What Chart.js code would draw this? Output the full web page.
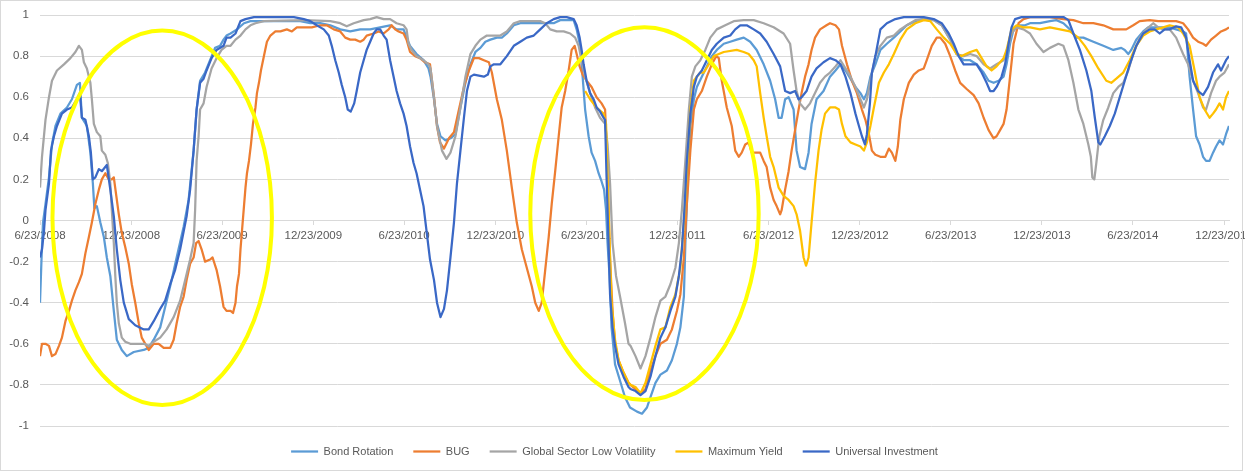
<!DOCTYPE html>
<html>
<head>
<meta charset="utf-8">
<script src="https://cdn.jsdelivr.net/npm/chart.js@4.4.1/dist/chart.umd.min.js"></script>
<style>
  html, body { margin: 0; padding: 0; background: #fff; }
  #wrap { width: 1245px; height: 472px; position: relative; }
</style>
</head>
<body>
<div id="wrap"><canvas id="corrChart"></canvas></div>
<script>
// x values are days counted from 6/23/2008
const tickLabels = ['6/23/2008', '12/23/2008', '6/23/2009', '12/23/2009', '6/23/2010', '12/23/2010',
  '6/23/2011', '12/23/2011', '6/23/2012', '12/23/2012', '6/23/2013', '12/23/2013', '6/23/2014', '12/23/2014'];

const bondDays = [0, 3, 6, 11, 18, 24, 31, 41, 54, 64, 74, 80, 84, 94, 101, 106, 109, 114, 121, 128, 134, 141, 148, 154, 164, 174, 188, 208, 218, 228, 241, 254, 264, 274, 288, 298, 308, 314, 321, 331, 341, 351, 361, 368, 374,
  382, 395, 409, 422, 442, 462, 482, 502, 522, 542, 562, 582, 602, 622, 642, 662, 682, 702, 715, 729, 735, 742, 755, 769, 779,
  783, 790, 796, 803, 813, 823, 833, 843, 853, 863, 873, 883, 893, 903, 916, 926, 936, 950, 963, 990, 1016, 1030, 1043, 1070, 1076, 1083, 1088, 1093, 1100, 1106, 1113, 1120, 1126, 1131, 1135, 1138, 1142, 1146, 1153, 1163, 1173, 1183,
  1197, 1207, 1217, 1224, 1234, 1244, 1257, 1267, 1277, 1284, 1291, 1294, 1299, 1304, 1311, 1317, 1327, 1337, 1347, 1357, 1371, 1384, 1397, 1411, 1424, 1437, 1451, 1464, 1474, 1481, 1487, 1494, 1501, 1511, 1517, 1524, 1534, 1541, 1547, 1557, 1571, 1584,
  1595, 1605, 1615, 1625, 1635, 1645, 1652, 1658, 1665, 1675, 1685, 1698, 1712, 1725, 1738, 1755, 1772, 1792, 1808, 1825, 1838, 1852, 1865, 1878, 1892, 1902, 1912, 1922, 1932, 1938, 1945, 1952, 1962, 1975, 1985,
  2005, 2025, 2038, 2052, 2065, 2078, 2092, 2112, 2132, 2152, 2168, 2175, 2182, 2188, 2198, 2212, 2222, 2248, 2265, 2278, 2292, 2298, 2305, 2312, 2318, 2325, 2332, 2338, 2345, 2352, 2358, 2365, 2372, 2378, 2384];
const bondVals = [-0.40, -0.19, -0.01, 0.08, 0.21, 0.37, 0.46, 0.52, 0.55, 0.59, 0.66, 0.67, 0.50, 0.46, 0.33, 0.18, 0.06, 0.07, -0.01, -0.08, -0.18, -0.27, -0.44, -0.58, -0.63, -0.66, -0.64, -0.63, -0.62, -0.58, -0.52, -0.39, -0.29, -0.18, -0.03, 0.10, 0.34, 0.54, 0.68, 0.72, 0.78, 0.84, 0.85, 0.88, 0.90,
  0.91, 0.93, 0.96, 0.97, 0.97, 0.97, 0.97, 0.97, 0.97, 0.96, 0.96, 0.95, 0.93, 0.92, 0.93, 0.93, 0.94, 0.95, 0.93, 0.93, 0.89, 0.85, 0.81, 0.78, 0.74,
  0.70, 0.59, 0.47, 0.41, 0.39, 0.40, 0.42, 0.55, 0.67, 0.76, 0.82, 0.84, 0.87, 0.88, 0.89, 0.89, 0.91, 0.95, 0.96, 0.96, 0.96, 0.96, 0.975, 0.975, 0.93, 0.85, 0.70, 0.54, 0.41, 0.33, 0.29, 0.23, 0.19, 0.15, 0.05, -0.11, -0.27, -0.52, -0.70, -0.78, -0.86, -0.91,
  -0.93, -0.94, -0.91, -0.86, -0.79, -0.75, -0.73, -0.68, -0.60, -0.52, -0.37, -0.11, 0.21, 0.46, 0.59, 0.65, 0.70, 0.75, 0.80, 0.83, 0.86, 0.87, 0.88, 0.89, 0.87, 0.83, 0.76, 0.68, 0.59, 0.50, 0.50, 0.59, 0.60, 0.54, 0.34, 0.26, 0.25, 0.33, 0.47, 0.59, 0.63, 0.70,
  0.73, 0.76, 0.73, 0.69, 0.65, 0.62, 0.59, 0.62, 0.70, 0.76, 0.83, 0.86, 0.89, 0.92, 0.95, 0.97, 0.98, 0.975, 0.95, 0.88, 0.81, 0.78, 0.78, 0.76, 0.72, 0.68, 0.67, 0.68, 0.70, 0.76, 0.86, 0.93, 0.95, 0.95, 0.96,
  0.96, 0.97, 0.975, 0.96, 0.93, 0.89, 0.89, 0.87, 0.85, 0.83, 0.84, 0.83, 0.81, 0.83, 0.88, 0.92, 0.94, 0.94, 0.94, 0.93, 0.92, 0.91, 0.70, 0.54, 0.41, 0.37, 0.31, 0.29, 0.29, 0.33, 0.36, 0.39, 0.37, 0.42, 0.46];

const bugDays = [0, 4, 11, 18, 24, 31, 38, 44, 51, 58, 64, 71, 78, 84, 91, 98, 104, 111, 118, 124, 131, 138, 144, 148, 153, 158, 164, 171, 178, 184, 191, 198, 204, 211, 218, 228, 238, 248, 261, 268, 274, 281, 288, 294, 301, 308, 313, 318, 324, 331, 341, 346, 354, 361, 368, 374,
  382, 387, 392, 395, 399, 402, 405, 409, 412, 415, 419, 423, 427, 432, 435, 439, 443, 449, 455, 462, 472, 482, 495, 505, 515, 545, 562, 575, 589, 602, 612, 622, 632, 642, 649, 655, 669, 679, 689, 699, 705, 712, 719, 729, 735, 742, 752, 762, 772, 782,
  790, 796, 802, 810, 820, 830, 840, 850, 860, 870, 880, 890, 900, 906, 916, 926, 936, 946, 956, 966, 976, 986, 993, 1000, 1006, 1013, 1020, 1026, 1033, 1040, 1046, 1053, 1060, 1066, 1072, 1076, 1082, 1088, 1096, 1106, 1116, 1126, 1133, 1136, 1140, 1143, 1148, 1153, 1160, 1170, 1180,
  1184, 1194, 1204, 1214, 1224, 1234, 1244, 1257, 1267, 1277, 1284, 1291, 1297, 1304, 1311, 1317, 1327, 1337, 1347, 1356, 1361, 1367, 1377, 1387, 1394, 1401, 1407, 1414, 1421, 1427, 1444, 1451, 1457, 1464, 1471, 1477, 1484, 1487, 1494, 1501, 1507, 1514, 1521, 1527, 1534, 1541, 1547, 1554, 1564, 1577, 1584,
  1595, 1602, 1608, 1618, 1628, 1638, 1648, 1655, 1662, 1668, 1675, 1685, 1695, 1702, 1708, 1715, 1720, 1725, 1732, 1742, 1752, 1762, 1772, 1778, 1788, 1798, 1805, 1815, 1825, 1835, 1845, 1858, 1872, 1882, 1892, 1902, 1912, 1918, 1925, 1932, 1938, 1945, 1952, 1962, 1972, 1985,
  2025, 2052, 2072, 2092, 2112, 2132, 2152, 2165, 2178, 2192, 2205, 2225, 2242, 2278, 2292, 2302, 2312, 2322, 2332, 2338, 2348, 2358, 2368, 2378, 2384];
const bugVals = [-0.66, -0.60, -0.60, -0.61, -0.66, -0.65, -0.61, -0.57, -0.49, -0.44, -0.39, -0.34, -0.30, -0.26, -0.16, -0.08, -0.01, 0.08, 0.15, 0.20, 0.23, 0.20, 0.20, 0.21, 0.12, 0.03, -0.06, -0.13, -0.21, -0.31, -0.40, -0.50, -0.57, -0.60, -0.63, -0.60, -0.60, -0.62, -0.62, -0.58, -0.50, -0.42, -0.37, -0.29, -0.21, -0.18, -0.11, -0.10, -0.14, -0.20, -0.19, -0.18, -0.24, -0.32, -0.42, -0.44,
  -0.44, -0.45, -0.40, -0.32, -0.26, -0.14, -0.05, 0.07, 0.16, 0.23, 0.29, 0.37, 0.47, 0.55, 0.62, 0.67, 0.73, 0.80, 0.87, 0.90, 0.92, 0.92, 0.93, 0.92, 0.94, 0.94, 0.95, 0.95, 0.93, 0.92, 0.89, 0.88, 0.88, 0.87, 0.88, 0.90, 0.91, 0.92, 0.91, 0.93, 0.95, 0.93, 0.92, 0.91, 0.88, 0.82, 0.80, 0.79, 0.77, 0.76,
  0.60, 0.46, 0.38, 0.35, 0.40, 0.43, 0.54, 0.65, 0.73, 0.79, 0.79, 0.78, 0.77, 0.72, 0.59, 0.49, 0.34, 0.16, -0.01, -0.14, -0.23, -0.32, -0.40, -0.44, -0.40, -0.24, -0.08, 0.08, 0.24, 0.41, 0.55, 0.63, 0.73, 0.83, 0.85, 0.81, 0.75, 0.71, 0.68, 0.65, 0.60, 0.57, 0.54, 0.37, 0.05, -0.19, -0.44, -0.60, -0.68, -0.74, -0.79,
  -0.80, -0.82, -0.84, -0.82, -0.73, -0.66, -0.60, -0.58, -0.53, -0.44, -0.36, -0.18, 0.08, 0.34, 0.54, 0.59, 0.63, 0.70, 0.76, 0.80, 0.79, 0.68, 0.55, 0.46, 0.34, 0.31, 0.33, 0.37, 0.38, 0.33, 0.33, 0.29, 0.26, 0.16, 0.10, 0.07, 0.03, 0.05, 0.15, 0.24, 0.34, 0.44, 0.54, 0.62, 0.70, 0.76, 0.83, 0.89, 0.93, 0.95, 0.96,
  0.95, 0.93, 0.85, 0.76, 0.68, 0.62, 0.54, 0.49, 0.42, 0.34, 0.32, 0.31, 0.31, 0.35, 0.33, 0.29, 0.36, 0.49, 0.59, 0.67, 0.71, 0.73, 0.74, 0.78, 0.85, 0.89, 0.89, 0.86, 0.80, 0.73, 0.67, 0.64, 0.61, 0.57, 0.50, 0.44, 0.40, 0.41, 0.44, 0.47, 0.54, 0.70, 0.86, 0.96, 0.98, 0.99,
  0.99, 0.98, 0.975, 0.96, 0.96, 0.95, 0.93, 0.93, 0.93, 0.95, 0.97, 0.975, 0.97, 0.97, 0.96, 0.93, 0.89, 0.87, 0.86, 0.85, 0.88, 0.90, 0.92, 0.93, 0.94];

const lowVolDays = [0, 4, 11, 18, 24, 34, 48, 61, 71, 78, 84, 88, 94, 101, 104, 108, 114, 121, 124, 131, 136, 141, 144, 148, 151, 154, 158, 164, 171, 181, 208, 218, 228, 241, 254, 268, 281, 294, 301, 308, 311, 314, 318, 321, 328, 334, 344, 354, 364, 374,
  382, 392, 402, 412, 422, 432, 449, 529, 582, 602, 615, 629, 649, 662, 675, 689, 702, 715, 729, 735, 739, 745, 755, 769, 779,
  783, 790, 796, 806, 815, 823, 833, 843, 853, 863, 873, 883, 896, 923, 936, 950, 963, 1003, 1013, 1023, 1036, 1050, 1063, 1073, 1080, 1086, 1093, 1103, 1113, 1123, 1133, 1138, 1143, 1148, 1155, 1163, 1173, 1180,
  1184, 1194, 1204, 1214, 1224, 1234, 1244, 1254, 1264, 1274, 1281, 1287, 1294, 1301, 1307, 1314, 1324, 1334, 1344, 1357, 1374, 1391, 1411, 1431, 1451, 1471, 1491, 1504, 1511, 1517, 1524, 1534, 1544, 1554, 1564, 1574, 1584,
  1595, 1605, 1615, 1625, 1635, 1645, 1652, 1658, 1665, 1675, 1685, 1698, 1712, 1725, 1738, 1755, 1772, 1792, 1808, 1825, 1838, 1852, 1865, 1878, 1892, 1905, 1918, 1932, 1942, 1948, 1958, 1972, 1985,
  1998, 2012, 2025, 2042, 2052, 2062, 2072, 2082, 2092, 2102, 2107, 2110, 2114, 2118, 2124, 2132, 2142, 2152, 2162, 2172, 2182, 2192, 2205, 2218, 2232, 2242, 2252, 2265, 2278, 2292, 2302, 2312, 2322, 2332, 2338, 2348, 2358, 2365, 2375, 2384];
const lowVolVals = [0.16, 0.31, 0.49, 0.60, 0.68, 0.73, 0.76, 0.79, 0.82, 0.85, 0.83, 0.77, 0.74, 0.67, 0.59, 0.47, 0.43, 0.41, 0.34, 0.32, 0.28, 0.18, 0.05, -0.11, -0.27, -0.40, -0.50, -0.57, -0.59, -0.60, -0.60, -0.61, -0.59, -0.57, -0.53, -0.47, -0.39, -0.26, -0.19, -0.11, 0.05, 0.29, 0.41, 0.54, 0.57, 0.65, 0.74, 0.79, 0.83, 0.85,
  0.85, 0.88, 0.90, 0.93, 0.95, 0.96, 0.97, 0.975, 0.97, 0.96, 0.945, 0.96, 0.975, 0.98, 0.99, 0.98, 0.98, 0.96, 0.95, 0.93, 0.86, 0.83, 0.80, 0.78, 0.76,
  0.74, 0.60, 0.46, 0.34, 0.30, 0.33, 0.41, 0.55, 0.70, 0.81, 0.85, 0.88, 0.90, 0.90, 0.92, 0.96, 0.97, 0.97, 0.96, 0.93, 0.92, 0.92, 0.91, 0.89, 0.85, 0.78, 0.70, 0.62, 0.55, 0.50, 0.47, 0.37, 0.18, -0.11, -0.27, -0.37, -0.50, -0.60,
  -0.61, -0.66, -0.72, -0.66, -0.57, -0.47, -0.39, -0.37, -0.31, -0.23, -0.11, 0.05, 0.29, 0.54, 0.70, 0.75, 0.78, 0.83, 0.89, 0.93, 0.95, 0.97, 0.975, 0.975, 0.96, 0.94, 0.91, 0.86, 0.73, 0.63, 0.57, 0.54, 0.57, 0.62, 0.67, 0.70, 0.72,
  0.75, 0.78, 0.74, 0.70, 0.65, 0.59, 0.55, 0.59, 0.68, 0.80, 0.85, 0.89, 0.90, 0.93, 0.95, 0.975, 0.98, 0.975, 0.95, 0.88, 0.81, 0.80, 0.81, 0.80, 0.76, 0.74, 0.76, 0.78, 0.85, 0.91, 0.94, 0.93, 0.91,
  0.86, 0.82, 0.84, 0.86, 0.85, 0.78, 0.67, 0.54, 0.47, 0.37, 0.31, 0.21, 0.20, 0.28, 0.41, 0.49, 0.55, 0.62, 0.65, 0.67, 0.73, 0.81, 0.89, 0.93, 0.96, 0.94, 0.93, 0.93, 0.89, 0.81, 0.76, 0.68, 0.62, 0.55, 0.54, 0.62, 0.68, 0.70, 0.72, 0.76];

const maxYieldDays = [1093, 1103, 1116, 1130, 1135, 1138, 1142, 1146, 1153, 1160, 1170, 1180,
  1184, 1194, 1204, 1214, 1224, 1234, 1244, 1254, 1264, 1274, 1284, 1291, 1297, 1304, 1311, 1317, 1324, 1331, 1341, 1351, 1361, 1371, 1397, 1411, 1421, 1431, 1437, 1444, 1451, 1457, 1464, 1471, 1481, 1491, 1501, 1511, 1517, 1524, 1531, 1536, 1541, 1547, 1554, 1561, 1567, 1574, 1584,
  1595, 1602, 1608, 1615, 1625, 1635, 1645, 1652, 1658, 1665, 1672, 1682, 1692, 1702, 1712, 1725, 1738, 1755, 1772, 1785, 1798, 1812, 1825, 1838, 1848, 1865, 1878, 1888, 1898, 1908, 1918, 1932, 1938, 1948, 1958, 1972, 1985,
  2005, 2025, 2045, 2065, 2082, 2095, 2108, 2122, 2138, 2148, 2158, 2172, 2185, 2198, 2212, 2225, 2238, 2252, 2265, 2282, 2292, 2305, 2315, 2325, 2335, 2345, 2352, 2358, 2365, 2372, 2378, 2384];
const maxYieldVals = [0.63, 0.59, 0.55, 0.52, 0.47, 0.20, -0.10, -0.40, -0.58, -0.68, -0.74, -0.79,
  -0.80, -0.81, -0.84, -0.79, -0.70, -0.61, -0.53, -0.52, -0.42, -0.36, -0.23, -0.01, 0.24, 0.54, 0.68, 0.70, 0.72, 0.72, 0.76, 0.80, 0.81, 0.82, 0.83, 0.82, 0.81, 0.78, 0.75, 0.62, 0.50, 0.41, 0.31, 0.26, 0.16, 0.12, 0.10, 0.07, 0.03, -0.05, -0.18, -0.22, -0.18, -0.01, 0.18, 0.34, 0.44, 0.52, 0.55,
  0.55, 0.54, 0.47, 0.41, 0.38, 0.37, 0.36, 0.34, 0.38, 0.46, 0.55, 0.67, 0.72, 0.76, 0.81, 0.88, 0.93, 0.96, 0.975, 0.97, 0.93, 0.89, 0.86, 0.81, 0.80, 0.82, 0.83, 0.79, 0.75, 0.73, 0.75, 0.79, 0.83, 0.93, 0.95, 0.94, 0.94,
  0.93, 0.94, 0.93, 0.92, 0.89, 0.85, 0.80, 0.74, 0.68, 0.67, 0.69, 0.72, 0.78, 0.85, 0.90, 0.92, 0.93, 0.94, 0.95, 0.94, 0.91, 0.85, 0.73, 0.60, 0.54, 0.50, 0.52, 0.54, 0.57, 0.54, 0.60, 0.63];

const universalDays = [0, 4, 8, 11, 18, 22, 28, 34, 44, 54, 64, 74, 80, 84, 91, 98, 102, 106, 111, 118, 124, 134, 141, 148, 154, 161, 168, 178, 191, 208, 218, 228, 241, 251, 261, 271, 281, 294, 301, 308, 314, 321, 328, 334, 344, 354, 368, 374,
  382, 392, 402, 412, 429, 509, 529, 542, 555, 569, 579, 585, 592, 599, 605, 612, 617, 623, 630, 635, 642, 649, 655, 662, 669, 675, 682, 689, 695, 702, 709, 715, 722, 729, 735, 742, 749, 755, 762, 769, 775, 782,
  790, 796, 803, 810, 816, 823, 830, 836, 843, 850, 856, 863, 870, 890, 898, 903, 910, 923, 936, 950, 963, 976, 990, 1003, 1016, 1030, 1043, 1056, 1070, 1076, 1082, 1086, 1090, 1096, 1103, 1110, 1116, 1123, 1130, 1133, 1136, 1140, 1143, 1148, 1153, 1160, 1170, 1180,
  1184, 1194, 1204, 1214, 1224, 1234, 1244, 1254, 1264, 1274, 1281, 1287, 1292, 1297, 1304, 1311, 1317, 1327, 1337, 1347, 1357, 1371, 1384, 1394, 1404, 1417, 1431, 1444, 1457, 1471, 1484, 1494, 1504, 1514, 1521, 1527, 1537, 1547, 1557, 1571, 1584,
  1595, 1605, 1615, 1625, 1635, 1642, 1648, 1654, 1658, 1664, 1668, 1675, 1685, 1698, 1715, 1732, 1772, 1792, 1808, 1822, 1832, 1842, 1852, 1878, 1888, 1898, 1905, 1912, 1918, 1928, 1935, 1942, 1948, 1955, 1968,
  1985, 2052, 2062, 2072, 2085, 2098, 2108, 2115, 2122, 2126, 2135, 2145, 2155, 2165, 2175, 2185, 2198, 2212, 2225, 2235, 2245, 2255, 2265, 2278, 2288, 2298, 2305, 2312, 2322, 2332, 2342, 2352, 2362, 2368, 2378, 2384];
const universalVals = [-0.18, -0.14, -0.05, 0.05, 0.18, 0.34, 0.41, 0.46, 0.52, 0.54, 0.55, 0.59, 0.62, 0.50, 0.49, 0.41, 0.33, 0.20, 0.21, 0.25, 0.24, 0.27, 0.15, 0.02, -0.14, -0.29, -0.40, -0.48, -0.51, -0.53, -0.53, -0.49, -0.43, -0.39, -0.31, -0.24, -0.14, 0.02, 0.15, 0.34, 0.54, 0.67, 0.69, 0.73, 0.79, 0.83, 0.85, 0.89,
  0.89, 0.91, 0.97, 0.98, 0.99, 0.99, 0.98, 0.97, 0.95, 0.93, 0.90, 0.85, 0.78, 0.72, 0.66, 0.60, 0.54, 0.53, 0.57, 0.63, 0.72, 0.78, 0.83, 0.87, 0.91, 0.93, 0.93, 0.90, 0.88, 0.78, 0.70, 0.63, 0.57, 0.52, 0.46, 0.36, 0.28, 0.23, 0.15, 0.07, -0.05, -0.19,
  -0.29, -0.40, -0.47, -0.43, -0.34, -0.18, -0.01, 0.18, 0.34, 0.50, 0.63, 0.70, 0.71, 0.70, 0.71, 0.75, 0.76, 0.76, 0.80, 0.85, 0.87, 0.89, 0.90, 0.93, 0.96, 0.98, 0.99, 0.99, 0.98, 0.95, 0.89, 0.83, 0.76, 0.68, 0.62, 0.59, 0.55, 0.53, 0.50, 0.49, 0.21, -0.11, -0.36, -0.52, -0.61, -0.70, -0.76, -0.81,
  -0.82, -0.83, -0.85, -0.83, -0.76, -0.66, -0.57, -0.52, -0.44, -0.37, -0.27, -0.14, 0.05, 0.29, 0.52, 0.65, 0.70, 0.73, 0.78, 0.83, 0.86, 0.89, 0.90, 0.93, 0.95, 0.95, 0.93, 0.91, 0.87, 0.81, 0.75, 0.63, 0.62, 0.63, 0.59, 0.60, 0.63, 0.70, 0.74, 0.77, 0.79,
  0.78, 0.76, 0.70, 0.62, 0.52, 0.46, 0.41, 0.37, 0.42, 0.57, 0.72, 0.80, 0.93, 0.96, 0.98, 0.99, 0.99, 0.98, 0.96, 0.91, 0.86, 0.80, 0.76, 0.76, 0.72, 0.67, 0.63, 0.63, 0.65, 0.70, 0.76, 0.86, 0.94, 0.98, 0.99,
  0.99, 0.99, 0.975, 0.91, 0.83, 0.73, 0.63, 0.50, 0.38, 0.37, 0.41, 0.46, 0.52, 0.60, 0.68, 0.76, 0.85, 0.91, 0.93, 0.93, 0.91, 0.93, 0.93, 0.945, 0.94, 0.89, 0.78, 0.68, 0.63, 0.61, 0.65, 0.72, 0.76, 0.73, 0.78, 0.80];

// the two yellow rings drawn over the chart (data units)
const rings = [
  { day: 245, value: 0.013, dayRadius: 220, valueRadius: 0.911 },
  { day: 1212, value: 0.033, dayRadius: 229, valueRadius: 0.907 }
];

const startDate = Date.UTC(2008, 5, 23);
const tickDays = tickLabels.map(s => {
  const [m, d, y] = s.split('/').map(Number);
  return Math.round((Date.UTC(y, m - 1, d) - startDate) / 86400000);
});

const toPoints = (days, vals) => days.map((d, i) => ({ x: d, y: vals[i] }));

const textColor = '#595959';
const gridColor = '#D9D9D9';
Chart.defaults.font.family = '"Liberation Sans", Arial, sans-serif';
Chart.defaults.font.size = 11.5;
Chart.defaults.color = textColor;

const series = [
  { label: 'Bond Rotation', days: bondDays, vals: bondVals, color: '#5B9BD5', order: 5 },
  { label: 'BUG', days: bugDays, vals: bugVals, color: '#ED7D31', order: 4 },
  { label: 'Global Sector Low Volatility', days: lowVolDays, vals: lowVolVals, color: '#A5A5A5', order: 3 },
  { label: 'Maximum Yield', days: maxYieldDays, vals: maxYieldVals, color: '#FFC000', order: 2 },
  { label: 'Universal Investment', days: universalDays, vals: universalVals, color: '#3A68C6', order: 1 }
];

const ringPlugin = {
  id: 'rings',
  afterDatasetsDraw(chart) {
    const { ctx, scales: { x, y } } = chart;
    ctx.save();
    ctx.strokeStyle = '#FFFF00';
    ctx.lineWidth = 4;
    rings.forEach(r => {
      const cx = x.getPixelForValue(r.day);
      const cy = y.getPixelForValue(r.value);
      const rx = x.getPixelForValue(r.day + r.dayRadius) - cx;
      const ry = cy - y.getPixelForValue(r.value + r.valueRadius);
      ctx.beginPath();
      ctx.ellipse(cx, cy, rx, ry, 0, 0, Math.PI * 2);
      ctx.stroke();
    });
    ctx.restore();
  }
};

const framePlugin = {
  id: 'frame',
  beforeDraw(chart) {
    const { ctx, width, height } = chart;
    ctx.save();
    ctx.fillStyle = '#fff';
    ctx.fillRect(0, 0, width, height);
    ctx.restore();
  },
  afterDraw(chart) {
    const { ctx } = chart;
    ctx.save();
    ctx.strokeStyle = '#D9D9D9';
    ctx.lineWidth = 1;
    ctx.strokeRect(0.5, 0.5, 1242, 470);
    ctx.restore();
  }
};

new Chart(document.getElementById('corrChart'), {
  type: 'line',
  data: {
    datasets: series.map(s => ({
      label: s.label,
      data: toPoints(s.days, s.vals),
      borderColor: s.color,
      backgroundColor: s.color,
      borderWidth: 2.25,
      pointRadius: 0,
      tension: 0,
      borderJoinStyle: 'round',
      order: s.order
    }))
  },
  options: {
    responsive: true,
    maintainAspectRatio: false,
    animation: false,
    layout: { padding: { left: 0, right: 16, top: 15, bottom: 5 } },
    plugins: {
      tooltip: { enabled: false },
      legend: {
        position: 'bottom',
        labels: {
          usePointStyle: true,
          pointStyle: 'line',
          pointStyleWidth: 27,
          boxHeight: 10,
          padding: 20,
          color: textColor,
          font: { size: 11 },
          sort: (a, b) => a.datasetIndex - b.datasetIndex
        }
      }
    },
    scales: {
      x: {
        type: 'linear',
        position: { y: 0 },
        min: 0,
        max: 2384,
        afterBuildTicks: scale => {
          scale.ticks = tickDays.map(v => ({ value: v }));
        },
        afterFit: scale => {
          scale.paddingLeft = 0;
          scale.paddingRight = 0;
          scale.paddingTop = 0;
          scale.paddingBottom = 0;
        },
        ticks: {
          autoSkip: false,
          maxRotation: 0,
          padding: 4,
          callback: (value, index) => tickLabels[index]
        },
        grid: {
          drawOnChartArea: false,
          drawTicks: true,
          tickLength: 4,
          color: gridColor
        },
        border: { display: true, color: gridColor }
      },
      y: {
        min: -1,
        max: 1,
        afterFit: scale => {
          scale.width = 40;
          scale.paddingTop = 0;
          scale.paddingBottom = 0;
        },
        ticks: {
          stepSize: 0.2,
          padding: 11,
          callback: v => String(Number(v.toFixed(1)))
        },
        grid: { color: gridColor, drawTicks: false },
        border: { display: false }
      }
    }
  },
  plugins: [ringPlugin, framePlugin]
});
</script>
</body>
</html>
